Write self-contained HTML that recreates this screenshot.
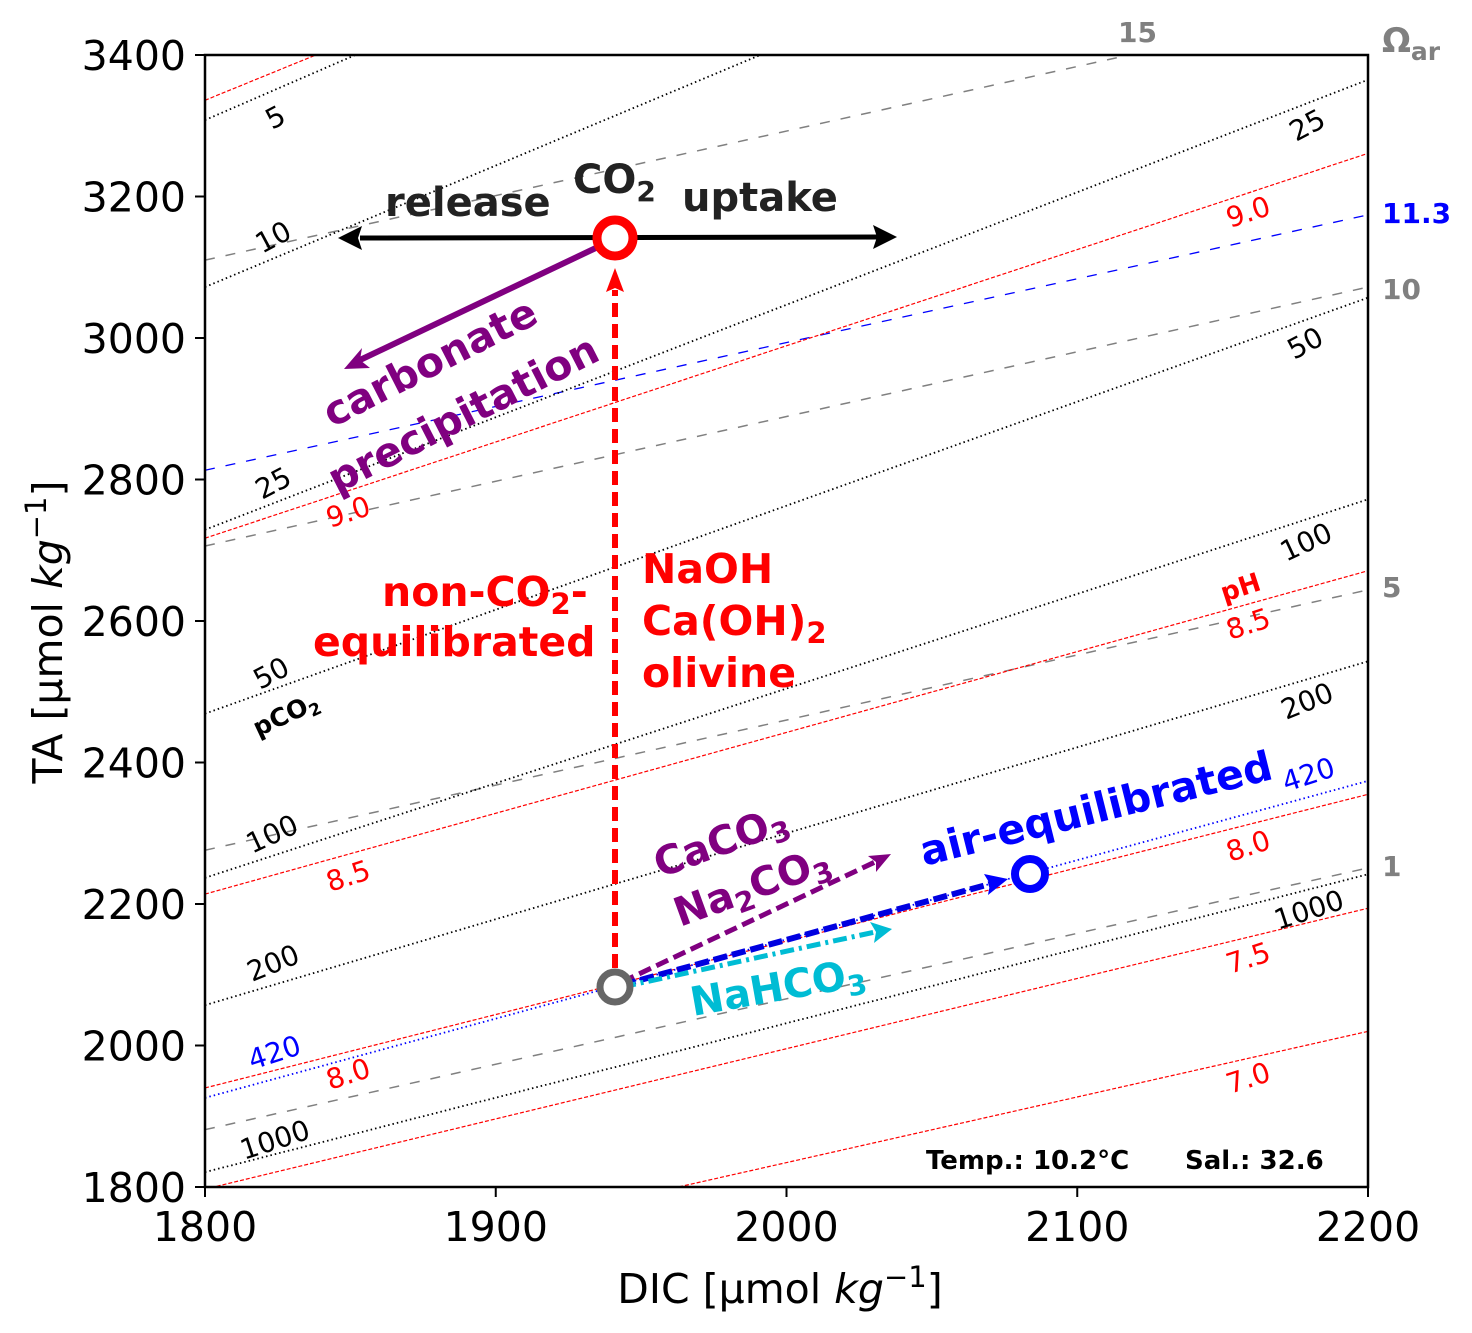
<!DOCTYPE html>
<html><head><meta charset="utf-8"><style>
body{margin:0;background:#fff;}
svg{display:block;font-family:"DejaVu Sans","Liberation Sans",sans-serif;}
</style></head><body>
<svg id="chart" width="1472" height="1333" viewBox="0 0 1472 1333">
<defs><clipPath id="plotclip"><rect x="205" y="55" width="1163" height="1132"/></clipPath></defs>
<g id="isolines" clip-path="url(#plotclip)"></g>
<g id="overlay"></g>
<rect x="205" y="55" width="1163" height="1132" fill="none" stroke="#000" stroke-width="2.5"/>
<g id="axes"></g>
</svg>
<script>
const xTicks=[1800,1900,2000,2100,2200];
const yTicks=[1800,2000,2200,2400,2600,2800,3000,3200,3400];
// isolines: TA at DIC=1800 and at DIC=2200
const phNames=["9.5","9.0","8.5","8.0","7.5","7.0"];
const phLeft=[3336,2717,2214,1940,1797,1649];
const phRight=[4008,3261,2671,2355,2194,2020];
const pco2Names=["5","10","25","50","100","200","1000"];
const pco2Left=[3308,3072,2729,2469,2237,2057,1821];
const pco2Right=[4020,3759,3365,3057,2772,2543,2242];
const pco2AirLeft=[1926], pco2AirRight=[2374];
const omNames=["15","10","5","1"];
const omLeft=[3110,2706,2276,1881];
const omRight=[3475,3072,2644,2251];
const om113Left=[2813], om113Right=[3174];

const NS="http://www.w3.org/2000/svg";
const X=d=>205+(d-1800)*1163/400;
const Y=t=>1187-(t-1800)*1132/1600;
function mk(tag,attrs,parent){const e=document.createElementNS(NS,tag);for(const k in attrs)e.setAttribute(k,attrs[k]);parent.appendChild(e);return e;}
const iso=document.getElementById('isolines');
function drawSet(L,R,stroke,dash,w,name){
  for(let i=0;i<L.length;i++){
    const l=mk('line',{x1:X(1800),y1:Y(L[i]),x2:X(2200),y2:Y(R[i]),stroke:stroke,'stroke-width':w,'stroke-dasharray':dash},iso);
    
    
  }
}
drawSet(omLeft,omRight,'#808080','10 11',1.5,'omega-isoline');
drawSet(om113Left,om113Right,'#0000ff','10 11',1.3,'omega-11-3-isoline');
drawSet(phLeft,phRight,'#ff0000','4 2',1.2,'ph-isoline');
drawSet(pco2Left,pco2Right,'#000','1.5 3',1.8,'pco2-isoline');
drawSet(pco2AirLeft,pco2AirRight,'#0000ff','1.5 3',1.8,'pco2-420-isoline');

const ax=document.getElementById('axes');
xTicks.forEach(v=>{
  const l=mk('line',{x1:X(v),x2:X(v),y1:1187,y2:1197,stroke:'#000','stroke-width':2},ax);
  
  const t=mk('text',{x:X(v),y:1241,'font-size':41,'text-anchor':'middle'},ax);t.textContent=v;
  
});
yTicks.forEach(v=>{
  const l=mk('line',{x1:195,x2:205,y1:Y(v),y2:Y(v),stroke:'#000','stroke-width':2},ax);
  
  const t=mk('text',{x:186,y:Y(v)+15,'font-size':41,'text-anchor':'end'},ax);t.textContent=v;
  
});
</script>
<script>
const ov=document.getElementById('overlay');
ov.innerHTML=`
<g font-size="28">
<text x="272" y="130" transform="rotate(-28 272 130)">5</text>
<text x="262" y="254" transform="rotate(-28 262 254)">10</text>
<text x="262" y="500" transform="rotate(-28 262 500)">25</text>
<text x="260" y="690" transform="rotate(-28 260 690)">50</text>
<text x="252" y="854" transform="rotate(-25 252 854)">100</text>
<text x="252" y="982" transform="rotate(-22 252 982)">200</text>
<text x="244" y="1160" transform="rotate(-18 244 1160)">1000</text>
<text x="252" y="1070" transform="rotate(-18 252 1070)" fill="#00f">420</text>
<text x="1296" y="142" transform="rotate(-28 1296 142)">25</text>
<text x="1294" y="360" transform="rotate(-28 1294 360)">50</text>
<text x="1286" y="562" transform="rotate(-25 1286 562)">100</text>
<text x="1286" y="720" transform="rotate(-22 1286 720)">200</text>
<text x="1278" y="930" transform="rotate(-18 1278 930)">1000</text>
<text x="1286" y="792" transform="rotate(-18 1286 792)" fill="#00f">420</text>
<g fill="#f00">
<text x="330" y="528" transform="rotate(-18 330 528)">9.0</text>
<text x="330" y="892" transform="rotate(-18 330 892)">8.5</text>
<text x="330" y="1090" transform="rotate(-18 330 1090)">8.0</text>
<text x="1230" y="228" transform="rotate(-18 1230 228)">9.0</text>
<text x="1230" y="640" transform="rotate(-18 1230 640)">8.5</text>
<text x="1230" y="862" transform="rotate(-18 1230 862)">8.0</text>
<text x="1230" y="974" transform="rotate(-18 1230 974)">7.5</text>
<text x="1230" y="1094" transform="rotate(-18 1230 1094)">7.0</text>
<text x="1224" y="602" transform="rotate(-18 1224 602)" font-weight="bold" font-size="26">pH</text>
</g>
<text x="258" y="737" transform="rotate(-25 258 737)" font-weight="bold" font-size="25">pCO<tspan font-size="17" dy="5">2</tspan></text>
</g>
<g font-size="28" font-weight="bold" fill="#808080">
<text x="1118" y="42">15</text>
<text x="1382" y="299">10</text>
<text x="1382" y="597">5</text>
<text x="1382" y="876">1</text>
<text x="1382" y="223" fill="#00f">11.3</text>
<text x="1382" y="52" font-size="34">Ω<tspan font-size="25" dy="8">ar</tspan></text>
</g>
<g>
<line x1="360" y1="238" x2="880" y2="237" stroke="#000" stroke-width="5"/>
<polygon points="338,238 362,226 358,238 362,250" fill="#000"/>
<polygon points="897,237 873,225 877,237 873,249" fill="#000"/>
<line x1="600" y1="246" x2="360" y2="360" stroke="#800080" stroke-width="6"/>
<polygon points="344,369 362,348 360,360 370,368" fill="#800080"/>
<line x1="615" y1="968" x2="615" y2="290" stroke="#f00" stroke-width="6" stroke-dasharray="14 7"/>
<polygon points="615,268 606,292 615,288 624,292" fill="#f00"/>
<line x1="622" y1="982" x2="875" y2="862" stroke="#800080" stroke-width="5" stroke-dasharray="13 6"/>
<polygon points="891,854 868,856 876,862 876,872" fill="#800080"/>
<line x1="622" y1="985" x2="990" y2="884" stroke="#0000e0" stroke-width="6" stroke-dasharray="14 5"/>
<polygon points="1008,879 984,874 990,884 988,895" fill="#00f"/>
<line x1="622" y1="987" x2="875" y2="932" stroke="#00bcd4" stroke-width="5" stroke-dasharray="14 5 3 5"/>
<polygon points="892,929 870,922 876,932 874,943" fill="#00bcd4"/>
</g>
<circle cx="615" cy="987" r="15" fill="#fff" stroke="#666" stroke-width="7"/>
<circle cx="615" cy="238" r="18" fill="#fff" stroke="#f00" stroke-width="9"/>
<circle cx="1030" cy="874" r="15" fill="#fff" stroke="#00f" stroke-width="8"/>
<g font-weight="bold">
<text x="385" y="216" font-size="40" fill="#222">release</text>
<text x="573" y="193" font-size="40" fill="#222">CO<tspan font-size="28" dy="8">2</tspan></text>
<text x="682" y="211" font-size="40" fill="#222">uptake</text>
<text x="332" y="428" transform="rotate(-27 332 428)" font-size="41" fill="#800080">carbonate</text>
<text x="337" y="494" transform="rotate(-27 337 494)" font-size="41" fill="#800080">precipitation</text>
<text x="382" y="606" font-size="41" fill="#f00">non-CO<tspan font-size="29" dy="8">2</tspan><tspan dy="-8">-</tspan></text>
<text x="313" y="656" font-size="41" fill="#f00">equilibrated</text>
<text x="642" y="583" font-size="41" fill="#f00">NaOH</text>
<text x="642" y="635" font-size="41" fill="#f00">Ca(OH)<tspan font-size="29" dy="8">2</tspan></text>
<text x="642" y="687" font-size="41" fill="#f00">olivine</text>
<text x="660" y="878" transform="rotate(-20 660 878)" font-size="40" fill="#800080">CaCO<tspan font-size="28" dy="8">3</tspan></text>
<text x="680" y="927" transform="rotate(-20 680 927)" font-size="40" fill="#800080">Na<tspan font-size="28" dy="8">2</tspan><tspan dy="-8">CO</tspan><tspan font-size="28" dy="8">3</tspan></text>
<text x="924" y="866" transform="rotate(-14 924 866)" font-size="41" fill="#00f">air-equilibrated</text>
<text x="693" y="1016" transform="rotate(-10 693 1016)" font-size="40" fill="#00bcd4">NaHCO<tspan font-size="28" dy="8">3</tspan></text>
<text x="926" y="1169" font-size="26" fill="#000">Temp.: 10.2°C</text>
<text x="1185" y="1169" font-size="26" fill="#000">Sal.: 32.6</text>
</g>
<text x="780" y="1303" font-size="41" text-anchor="middle">DIC [µmol <tspan font-style="italic">kg</tspan><tspan font-size="29" dy="-16">−1</tspan><tspan dy="16">]</tspan></text>
<text transform="translate(62 632) rotate(-90)" font-size="41" text-anchor="middle">TA [µmol <tspan font-style="italic">kg</tspan><tspan font-size="29" dy="-16">−1</tspan><tspan dy="16">]</tspan></text>
`;
</script>
</body></html>
